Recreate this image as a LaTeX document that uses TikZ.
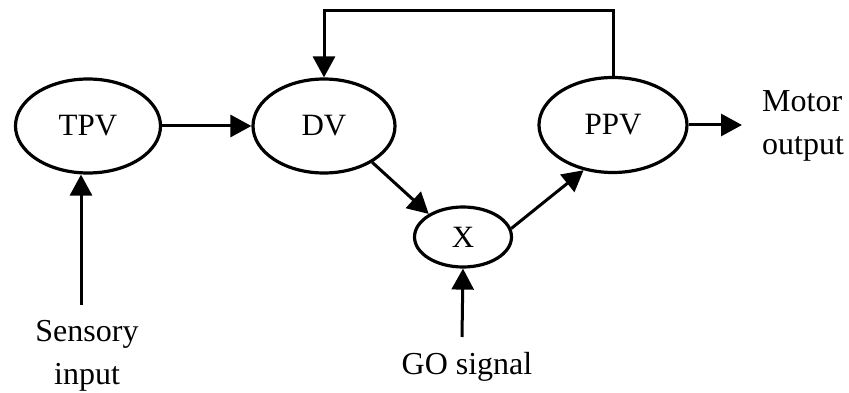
\documentclass[tikz,border=0pt]{standalone}
\usepackage{fontspec}
\setmainfont{Liberation Serif}
\usetikzlibrary{arrows.meta,shapes.geometric}
\begin{document}
\begin{tikzpicture}[x=1pt,y=-1pt,
  ell/.style={draw,ellipse,line width=3.2pt,inner sep=0pt,font=\fontsize{31}{43}\selectfont},
  arr/.style={line width=3pt,-{Triangle[length=21pt,width=22pt]}},
  lbl/.style={font=\fontsize{32}{43}\selectfont,inner sep=0pt}]
\useasboundingbox (0,0) rectangle (849,393);
\node[ell,minimum width=145pt,minimum height=94pt] (TPV) at (88,126) {TPV};
\node[ell,minimum width=142pt,minimum height=94pt] (DV) at (324,126) {DV};
\node[ell,minimum width=148pt,minimum height=95pt] (PPV) at (613,125) {PPV};
\node[ell,minimum width=97pt,minimum height=60pt] (X) at (463,237) {X};
\coordinate (fbc) at (0,11);
\coordinate (motortip) at (742,125);
\coordinate (sensbot) at (81,305);
\coordinate (gobot) at (462,337);
\node[lbl,anchor=west,align=left] (motor) at (762,126) {Motor\\output};
\node[lbl,align=center] (sens) at (87,356) {Sensory\\input};
\node[lbl] (go) at (467,367) {GO signal};
\draw[arr] (TPV.east) -- (DV.west);
\draw[arr] (DV.-37) -- (X.146);
\draw[arr] (X.10) -- (PPV.237);
\draw[arr] (PPV.east) -- (motortip);
\draw[arr] (PPV.north) -- (PPV.north |- fbc) -- (DV.north |- fbc) -- (DV.north);
\draw[arr] (sensbot) -- (sensbot |- TPV.south);
\draw[arr] (gobot) -- (X.south);
\end{tikzpicture}
\end{document}
